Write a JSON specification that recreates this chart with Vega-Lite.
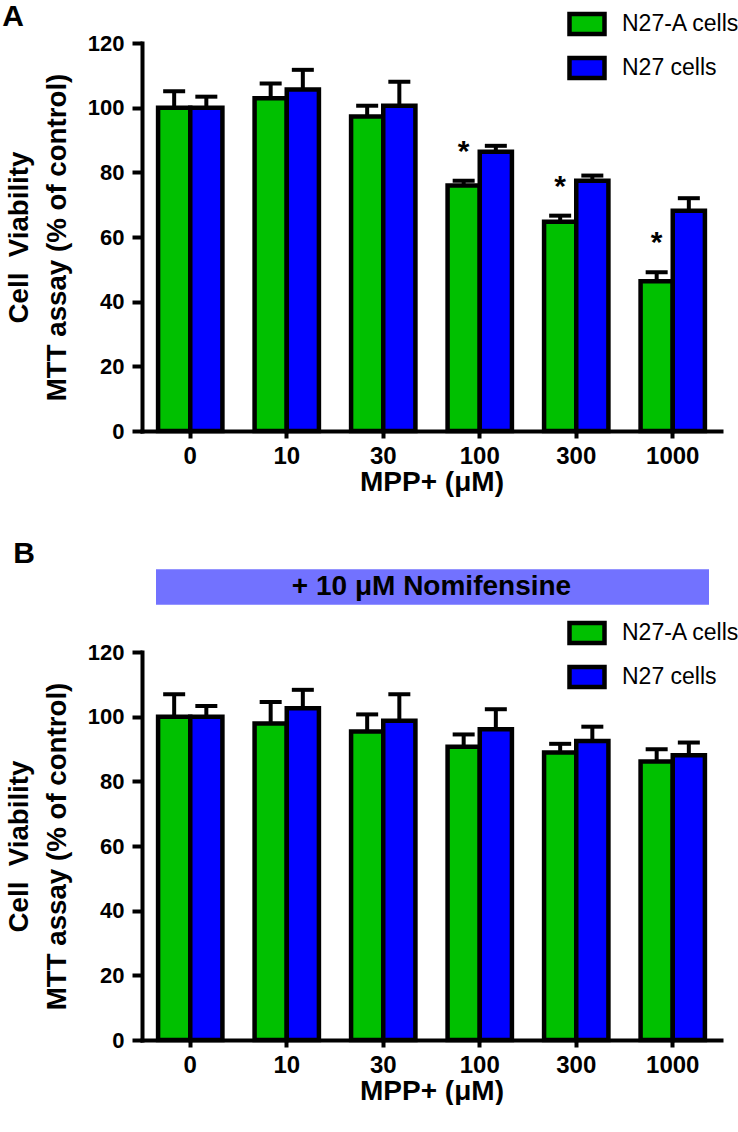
{
  "$schema": "https://vega.github.io/schema/vega-lite/v6.json",
  "background": "white",
  "padding": {"left": 2, "top": 1, "right": 0, "bottom": 0},
  "spacing": 43,
  "datasets": {
    "a": [
      {"dose": "0", "cell": "N27-A cells", "mean": 100, "hi": 105.1, "sig": ""},
      {"dose": "0", "cell": "N27 cells", "mean": 100, "hi": 103.4, "sig": ""},
      {"dose": "10", "cell": "N27-A cells", "mean": 102.9, "hi": 107.5, "sig": ""},
      {"dose": "10", "cell": "N27 cells", "mean": 105.6, "hi": 111.7, "sig": ""},
      {"dose": "30", "cell": "N27-A cells", "mean": 97.3, "hi": 100.6, "sig": ""},
      {"dose": "30", "cell": "N27 cells", "mean": 100.6, "hi": 108.0, "sig": ""},
      {"dose": "100", "cell": "N27-A cells", "mean": 75.9, "hi": 77.4, "sig": "*"},
      {"dose": "100", "cell": "N27 cells", "mean": 86.4, "hi": 88.2, "sig": ""},
      {"dose": "300", "cell": "N27-A cells", "mean": 64.7, "hi": 66.6, "sig": "*"},
      {"dose": "300", "cell": "N27 cells", "mean": 77.4, "hi": 79.0, "sig": ""},
      {"dose": "1000", "cell": "N27-A cells", "mean": 46.3, "hi": 49.1, "sig": "*"},
      {"dose": "1000", "cell": "N27 cells", "mean": 68.1, "hi": 72.0, "sig": ""}
    ],
    "b": [
      {"dose": "0", "cell": "N27-A cells", "mean": 100, "hi": 106.9},
      {"dose": "0", "cell": "N27 cells", "mean": 100, "hi": 103.3},
      {"dose": "10", "cell": "N27-A cells", "mean": 97.9, "hi": 104.5},
      {"dose": "10", "cell": "N27 cells", "mean": 102.6, "hi": 108.3},
      {"dose": "30", "cell": "N27-A cells", "mean": 95.4, "hi": 100.7},
      {"dose": "30", "cell": "N27 cells", "mean": 98.7, "hi": 106.9},
      {"dose": "100", "cell": "N27-A cells", "mean": 90.7, "hi": 94.5},
      {"dose": "100", "cell": "N27 cells", "mean": 96.1, "hi": 102.3},
      {"dose": "300", "cell": "N27-A cells", "mean": 88.9, "hi": 91.6},
      {"dose": "300", "cell": "N27 cells", "mean": 92.5, "hi": 96.9},
      {"dose": "1000", "cell": "N27-A cells", "mean": 86.1, "hi": 89.9},
      {"dose": "1000", "cell": "N27 cells", "mean": 88.1, "hi": 92.0}
    ],
    "banner": [
      {"label": "+ 10 μM Nomifensine", "from": "0", "to": "1000"}
    ]
  },
  "resolve": {
    "scale": {"x": "independent", "y": "independent", "xOffset": "independent", "fill": "independent"},
    "legend": {"fill": "independent"},
    "axis": {"x": "independent", "y": "independent"}
  },
  "vconcat": [
    {
      "width": 579,
      "height": 388,
      "title": {"text": "A", "anchor": "start", "frame": "bounds", "fontSize": 30, "fontWeight": "bold", "color": "black", "baseline": "alphabetic", "offset": 0, "dy": 44, "dx": -3},
      "data": {"name": "a"},
      "encoding": {
        "x": {
          "field": "dose", "type": "nominal",
          "scale": {"domain": ["0", "10", "30", "100", "300", "1000"], "paddingInner": 0, "paddingOuter": 0},
          "axis": {"title": "MPP+ (μM)"}
        },
        "xOffset": {"field": "cell", "type": "nominal", "scale": {"domain": ["N27-A cells", "N27 cells"], "paddingInner": 0, "paddingOuter": 0.5}}
      },
      "layer": [
        {
          "mark": {"type": "rule", "strokeWidth": 4, "color": "black"},
          "encoding": {
            "y": {"field": "mean", "type": "quantitative"},
            "y2": {"field": "hi"}
          }
        },
        {
          "mark": {"type": "tick", "orient": "horizontal", "size": 22, "thickness": 4, "color": "black", "opacity": 1},
          "encoding": {"y": {"field": "hi", "type": "quantitative"}}
        },
        {
          "mark": {"type": "bar", "stroke": "black", "strokeWidth": 4.5, "opacity": 1},
          "encoding": {
            "y": {
              "field": "mean", "type": "quantitative",
              "scale": {"domain": [0, 120], "nice": false, "zero": true},
              "axis": {
                "values": [0, 10, 20, 30, 40, 50, 60, 70, 80, 90, 100, 110, 120],
                "labelExpr": "datum.value % 20 === 0 ? datum.label : ''",
                "tickSize": {"condition": {"test": "datum.value % 20 === 0", "value": 10}, "value": 6},
                "title": ["Cell\u00a0\u00a0Viability", "MTT assay (% of control)"],
                "titleFontSize": 27.7,
                "titleLineHeight": 38,
                "titlePadding": 16,
                "labelPadding": 8
              }
            },
            "fill": {
              "field": "cell", "type": "nominal",
              "scale": {"domain": ["N27-A cells", "N27 cells"], "range": ["#00c000", "#0000ff"]},
              "legend": {
                "orient": "none", "legendX": 432.5, "legendY": -31.5, "title": null,
                "symbolType": "M-1.75,-1H1.75V1H-1.75Z", "symbolSize": 400,
                "symbolStrokeColor": "black", "symbolStrokeWidth": 4.5, "symbolOpacity": 1,
                "labelFontSize": 23, "labelColor": "black", "labelOffset": 22.5,
                "rowPadding": 5, "padding": 0
              }
            }
          }
        },
        {
          "mark": {"type": "text", "fontSize": 30, "fontWeight": "bold", "color": "black", "baseline": "alphabetic", "dy": -20},
          "encoding": {
            "y": {"field": "hi", "type": "quantitative"},
            "text": {"field": "sig"}
          }
        }
      ]
    },
    {
      "width": 579,
      "height": 388,
      "title": {"text": "B", "anchor": "start", "frame": "bounds", "fontSize": 30, "fontWeight": "bold", "color": "black", "baseline": "alphabetic", "offset": 8, "dy": 32, "dx": 8},
      "resolve": {"scale": {"x": "independent"}, "axis": {"x": "independent"}},
      "layer": [
        {
          "layer": [
            {
              "data": {"name": "banner"},
              "mark": {"type": "rect", "color": "#7272ff", "opacity": 1, "xOffset": 14, "x2Offset": -12},
              "encoding": {
                "x": {"field": "from", "type": "nominal", "bandPosition": 0,
                  "scale": {"domain": ["0", "10", "30", "100", "300", "1000"], "paddingInner": 0, "paddingOuter": 0},
                  "axis": {"title": "MPP+ (μM)"}},
                "x2": {"field": "to", "bandPosition": 1},
                "y": {"datum": 145.6, "type": "quantitative"},
                "y2": {"datum": 134.6}
              }
            },
            {
              "data": {"name": "b"},
              "mark": {"type": "rule", "strokeWidth": 4, "color": "black"},
              "encoding": {
                "x": {"field": "dose", "type": "nominal"},
                "xOffset": {"field": "cell", "type": "nominal", "scale": {"domain": ["N27-A cells", "N27 cells"], "paddingInner": 0, "paddingOuter": 0.5}},
                "y": {"field": "mean", "type": "quantitative"},
                "y2": {"field": "hi"}
              }
            },
            {
              "data": {"name": "b"},
              "mark": {"type": "tick", "orient": "horizontal", "size": 22, "thickness": 4, "color": "black", "opacity": 1},
              "encoding": {
                "x": {"field": "dose", "type": "nominal"},
                "xOffset": {"field": "cell", "type": "nominal"},
                "y": {"field": "hi", "type": "quantitative"}
              }
            },
            {
              "data": {"name": "b"},
              "mark": {"type": "bar", "stroke": "black", "strokeWidth": 4.5, "opacity": 1},
              "encoding": {
                "x": {"field": "dose", "type": "nominal"},
                "xOffset": {"field": "cell", "type": "nominal"},
                "y": {
                  "field": "mean", "type": "quantitative",
                  "scale": {"domain": [0, 120], "nice": false, "zero": true},
                  "axis": {
                    "values": [0, 10, 20, 30, 40, 50, 60, 70, 80, 90, 100, 110, 120],
                    "labelExpr": "datum.value % 20 === 0 ? datum.label : ''",
                    "tickSize": {"condition": {"test": "datum.value % 20 === 0", "value": 10}, "value": 6},
                    "title": ["Cell\u00a0\u00a0Viability", "MTT assay (% of control)"],
                    "titleFontSize": 27.7,
                    "titleLineHeight": 38,
                    "titlePadding": 16,
                    "labelPadding": 8
                  }
                },
                "fill": {
                  "field": "cell", "type": "nominal",
                  "scale": {"domain": ["N27-A cells", "N27 cells"], "range": ["#00c000", "#0000ff"]},
                  "legend": {
                    "orient": "none", "legendX": 432.5, "legendY": -31.5, "title": null,
                    "symbolType": "M-1.75,-1H1.75V1H-1.75Z", "symbolSize": 400,
                    "symbolStrokeColor": "black", "symbolStrokeWidth": 4.5, "symbolOpacity": 1,
                    "labelFontSize": 23, "labelColor": "black", "labelOffset": 22.5,
                    "rowPadding": 5, "padding": 0
                  }
                }
              }
            }
          ]
        },
        {
          "data": {"name": "banner"},
          "mark": {"type": "text", "fontSize": 28, "fontWeight": "bold", "color": "black", "baseline": "middle", "align": "center"},
          "encoding": {
            "x": {"datum": 0.5, "type": "quantitative", "scale": {"domain": [0, 1]}, "axis": null},
            "y": {"datum": 140.1, "type": "quantitative"},
            "text": {"field": "label"}
          }
        }
      ]
    }
  ],
  "config": {
    "font": "Liberation Sans",
    "view": {"stroke": null},
    "axis": {
      "grid": false,
      "domainColor": "black",
      "domainWidth": 4,
      "domainCap": "square",
      "tickColor": "black",
      "tickWidth": 4,
      "labelColor": "black",
      "labelFontSize": 22,
      "labelFontWeight": "bold",
      "titleColor": "black",
      "titleFontWeight": "bold"
    },
    "axisX": {
      "labelAngle": 0,
      "tickSize": 7,
      "labelPadding": 6,
      "labelFontSize": 24,
      "titleFontSize": 28,
      "titlePadding": 0
    }
  }
}
